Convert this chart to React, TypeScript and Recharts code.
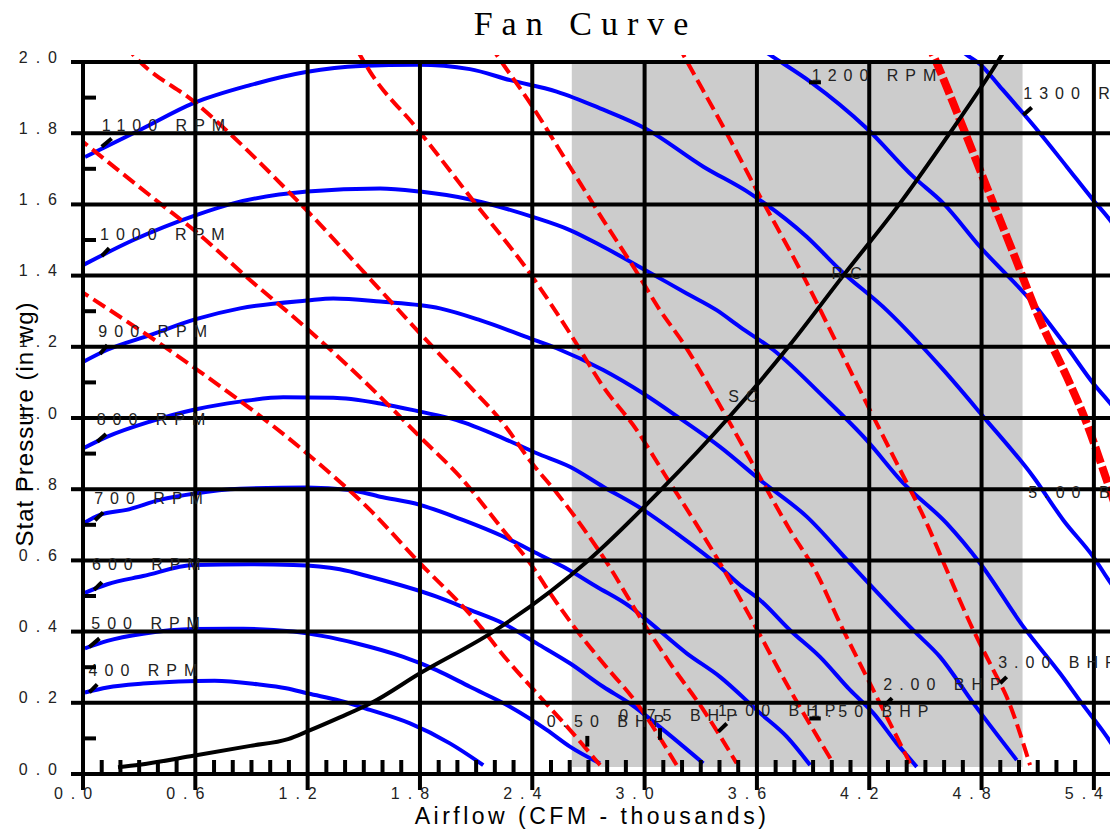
import React from 'react';
import { ComposedChart, Line, XAxis, YAxis, ReferenceLine, ReferenceArea, ReferenceDot } from 'recharts';

const SANS = '"Liberation Sans", Arial, Helvetica, sans-serif';
const SERIF = '"Liberation Serif", "Times New Roman", serif';

// ---- Fan curves: [airflow (thousand CFM), static pressure (in wg)] ----
const rpm400 = [[0.01,0.229],[0.13,0.243],[0.321,0.254],[0.512,0.26],[0.703,0.262],[0.933,0.252],[1.085,0.241],[1.204,0.226],[1.372,0.206],[1.533,0.18],[1.747,0.142],[1.96,0.086],[2.138,0.025]];
const rpm500 = [[0.01,0.353],[0.13,0.374],[0.321,0.394],[0.594,0.407],[0.856,0.408],[1.124,0.4],[1.276,0.388],[1.468,0.366],[1.711,0.329],[1.889,0.292],[2.067,0.245],[2.281,0.189],[2.477,0.124],[2.601,0.077],[2.761,0.03]];
const rpm600 = [[0.01,0.509],[0.13,0.533],[0.321,0.556],[0.594,0.587],[0.894,0.589],[1.124,0.587],[1.372,0.575],[1.533,0.554],[1.889,0.498],[2.067,0.461],[2.245,0.423],[2.424,0.367],[2.601,0.311],[2.779,0.245],[2.922,0.198],[3.1,0.124],[3.314,0.03]];
const rpm700 = [[0.002,0.704],[0.091,0.728],[0.233,0.742],[0.411,0.77],[0.598,0.788],[0.839,0.801],[1.195,0.805],[1.426,0.798],[1.587,0.779],[1.8,0.756],[2.032,0.713],[2.245,0.667],[2.424,0.62],[2.566,0.582],[2.744,0.526],[2.922,0.47],[3.011,0.433],[3.225,0.339],[3.403,0.273],[3.617,0.171],[3.759,0.105],[3.884,0.025]];
const rpm800 = [[0.002,0.915],[0.127,0.947],[0.358,0.99],[0.598,1.024],[0.839,1.046],[1.07,1.058],[1.337,1.057],[1.587,1.041],[1.8,1.018],[1.996,0.994],[2.245,0.943],[2.424,0.901],[2.601,0.863],[2.779,0.807],[2.993,0.742],[3.171,0.676],[3.385,0.59],[3.51,0.531],[3.616,0.489],[3.777,0.404],[3.937,0.329],[4.097,0.236],[4.222,0.171],[4.347,0.086],[4.454,0.02]];
const rpm900 = [[0.002,1.158],[0.127,1.191],[0.358,1.233],[0.598,1.277],[0.839,1.308],[1.195,1.33],[1.337,1.336],[1.587,1.327],[1.907,1.308],[2.121,1.275],[2.388,1.224],[2.53,1.196],[2.779,1.135],[2.993,1.069],[3.189,0.999],[3.403,0.919],[3.617,0.826],[3.866,0.723],[4.115,0.582],[4.435,0.404],[4.578,0.329],[4.756,0.199],[4.988,0.039]];
const rpm1000 = [[0.002,1.43],[0.269,1.5],[0.604,1.57],[0.803,1.603],[1.198,1.636],[1.587,1.645],[1.8,1.636],[2.067,1.614],[2.402,1.565],[2.601,1.528],[2.779,1.481],[3.002,1.416],[3.225,1.35],[3.385,1.303],[3.509,1.256],[3.688,1.191],[3.955,1.06],[4.186,0.938],[4.382,0.817],[4.614,0.704],[4.792,0.592],[5.023,0.414],[5.219,0.283],[5.335,0.199],[5.469,0.105],[5.566,0.025]];
const rpm1100 = [[0.011,1.733],[0.304,1.809],[0.593,1.885],[0.892,1.935],[1.191,1.972],[1.48,1.989],[1.79,1.992],[2.067,1.98],[2.281,1.949],[2.53,1.917],[2.762,1.87],[3.002,1.814],[3.314,1.706],[3.563,1.631],[3.866,1.509],[4.044,1.416],[4.293,1.303],[4.596,1.135],[4.809,1.004],[5.076,0.835],[5.237,0.713],[5.397,0.61],[5.497,0.531],[5.56,0.49]];
const rpm1200 = [[3.617,2.039],[3.67,2.02],[3.884,1.945],[4.186,1.814],[4.435,1.678],[4.596,1.603],[4.792,1.481],[5.076,1.322],[5.255,1.2],[5.397,1.097],[5.486,1.042],[5.56,0.99]];
const rpm1300 = [[4.63,2.06],[4.721,2.02],[4.792,1.994],[4.898,1.931],[5.112,1.8],[5.255,1.706],[5.397,1.612],[5.486,1.556],[5.593,1.472]];

// ---- Brake horsepower curves ----
const bhp050 = [[-0.034,1.364],[0.598,1.14],[1.195,0.901],[1.533,0.742],[1.8,0.592],[2.067,0.449],[2.281,0.311],[2.424,0.227],[2.601,0.124],[2.762,0.025]];
const bhp075 = [[-0.034,1.79],[0.411,1.603],[0.604,1.523],[0.892,1.388],[1.195,1.252],[1.587,1.06],[1.8,0.947],[2.014,0.835],[2.245,0.685],[2.402,0.582],[2.495,0.508],[2.637,0.404],[2.779,0.311],[2.958,0.199],[3.171,0.025]];
const bhp100 = [[0.224,2.048],[0.269,2.02],[0.604,1.884],[1.159,1.603],[1.587,1.36],[1.8,1.238],[2.067,1.088],[2.245,0.985],[2.388,0.88],[2.53,0.79],[2.673,0.69],[2.815,0.58],[2.958,0.455],[3.136,0.311],[3.314,0.18],[3.492,0.03]];
const bhp150 = [[1.464,2.034],[1.533,1.973],[1.783,1.814],[2.067,1.622],[2.388,1.406],[2.601,1.238],[2.779,1.088],[2.958,0.966],[3.109,0.84],[3.296,0.685],[3.403,0.592],[3.563,0.442],[3.777,0.236],[3.901,0.124],[4.008,0.03]];
const bhp200 = [[2.174,2.048],[2.21,2.02],[2.402,1.874],[2.601,1.706],[2.779,1.556],[2.94,1.425],[3.082,1.303],[3.207,1.21],[3.385,1.051],[3.527,0.919],[3.634,0.817],[3.777,0.685],[3.919,0.564],[4.044,0.423],[4.186,0.273],[4.275,0.18],[4.418,0.03]];
const bhp300 = [[3.178,2.048],[3.207,2.02],[3.42,1.818],[3.617,1.622],[3.831,1.416],[4.044,1.191],[4.186,1.041],[4.347,0.873],[4.507,0.704],[4.614,0.573],[4.756,0.404],[4.863,0.292],[4.934,0.217],[5.059,0.025]];
const bhp500 = [[4.503,2.062],[4.541,2.02],[4.685,1.837],[4.827,1.65],[4.97,1.463],[5.112,1.275],[5.255,1.116],[5.362,0.985],[5.45,0.854],[5.513,0.756]];

// ---- System curve ----
const systemCurve = [[0.187,0.019],[0.302,0.026],[0.589,0.051],[0.894,0.079],[1.095,0.098],[1.204,0.121],[1.372,0.159],[1.542,0.2],[1.8,0.283],[2.192,0.4],[2.699,0.6],[3.091,0.8],[3.447,1.0],[3.768,1.2],[4.061,1.4],[4.36,1.6],[4.63,1.8],[4.885,2.0],[4.92,2.03]];

// ---- Axes ----
const xDomain = [0, 5.5];
const yDomain = [0, 2.02];
const xGridValues = [0, 0.6, 1.2, 1.8, 2.4, 3.0, 3.6, 4.2, 4.8, 5.4];
const yGridValues = [0, 0.2, 0.4, 0.6, 0.8, 1.0, 1.2, 1.4, 1.6, 1.8, 2.0];
const xTickValues = Array.from({ length: 56 }, (_, i) => i / 10);
const yTickValues = Array.from({ length: 21 }, (_, i) => i / 10);
const shadedRange = { x1: 2.611, x2: 5.019, y1: 0.02, y2: 2.0 };

// ---- Annotations ----
const rpmLabels = [
  { text: '1100 RPM', x: 0.1, y: 1.807, mark: [0.1, 1.762, 0.153, 1.785] },
  { text: '1000 RPM', x: 0.091, y: 1.5, mark: [0.1, 1.455, 0.14, 1.477] },
  { text: '900 RPM', x: 0.082, y: 1.227, mark: [0.091, 1.18, 0.13, 1.205] },
  { text: '800 RPM', x: 0.073, y: 0.98, mark: [0.076, 0.933, 0.123, 0.955] },
  { text: '700 RPM', x: 0.06, y: 0.758, mark: [0.064, 0.713, 0.108, 0.735] },
  { text: '600 RPM', x: 0.048, y: 0.573, mark: [0.059, 0.517, 0.101, 0.539] },
  { text: '500 RPM', x: 0.044, y: 0.406, mark: [0.034, 0.357, 0.088, 0.381] },
  { text: '400 RPM', x: 0.03, y: 0.275, mark: [0.034, 0.229, 0.076, 0.252] },
  { text: '1200 RPM', x: 3.893, y: 1.947, mark: [3.878, 1.943, 3.942, 1.943] },
  { text: '1300 RPM', x: 5.023, y: 1.895, mark: [5.023, 1.851, 5.068, 1.872] },
];
const bhpLabels = [
  { text: '0.50 BHP', x: 2.477, y: 0.131, mark: [2.694, 0.107, 2.694, 0.077] },
  { text: '0.75 BHP', x: 2.865, y: 0.15, mark: [3.082, 0.129, 3.082, 0.096] },
  { text: '1.00 BHP', x: 3.392, y: 0.163, mark: [3.394, 0.119, 3.439, 0.142] },
  { text: '1.50 BHP', x: 3.889, y: 0.161, mark: [3.88, 0.156, 3.941, 0.156] },
  { text: '2.00 BHP', x: 4.275, y: 0.236, mark: [4.279, 0.191, 4.322, 0.213] },
  { text: '3.00 BHP', x: 4.889, y: 0.297, mark: [4.899, 0.255, 4.934, 0.273] },
  { text: '5.00 BHP', x: 5.05, y: 0.774, mark: null },
  { text: 'SC', x: 3.447, y: 1.046, mark: null },
  { text: 'RC', x: 3.999, y: 1.39, mark: null },
];

const toXY = (a: number[][]) => a.map(([x, y]) => ({ x, y }));

const fanCurves = [rpm400, rpm500, rpm600, rpm700, rpm800, rpm900, rpm1000, rpm1100, rpm1200, rpm1300];
const bhpCurves = [bhp050, bhp075, bhp100, bhp150, bhp200, bhp300];

const isMultiple = (v: number, step: number) => Math.abs(v / step - Math.round(v / step)) < 1e-6;

const XTick = (props: any) => {
  const { x, y, payload } = props;
  const v = payload.value;
  if (isMultiple(v, 0.6)) {
    return (
      <g>
        <line x1={x} y1={y} x2={x} y2={y + 16} stroke="#000" strokeWidth={4} />
        <text x={x - 6} y={y + 25} textAnchor="middle" fontFamily={SANS} fontSize={16} letterSpacing={8} fill="#222">
          {v.toFixed(1)}
        </text>
      </g>
    );
  }
  return <line x1={x} y1={y - 2} x2={x} y2={y - 14} stroke="#000" strokeWidth={4} />;
};

const YTick = (props: any) => {
  const { x, y, payload } = props;
  const v = payload.value;
  if (isMultiple(v, 0.2)) {
    return (
      <g>
        <line x1={x - 12} y1={y} x2={x} y2={y} stroke="#000" strokeWidth={4} />
        <text x={x - 18} y={y + 0.5} textAnchor="end" fontFamily={SANS} fontSize={16} letterSpacing={8} fill="#222">
          {v.toFixed(1)}
        </text>
      </g>
    );
  }
  return <line x1={x + 2} y1={y} x2={x + 13} y2={y} stroke="#000" strokeWidth={4} />;
};

const labelShape = (text: string) => (p: any) => (
  <text x={p.cx} y={p.cy} fontFamily={SANS} fontSize={16} letterSpacing={7} fill="#222">
    {text}
  </text>
);

export default function App() {
  return (
    <div style={{ position: 'absolute', left: 0, top: 0, width: 1110, height: 832, overflow: 'hidden', background: '#fff' }}>
      <ComposedChart width={1130} height={832} margin={{ top: 54.9, right: 17.4, bottom: 18, left: 23 }}>
        <ReferenceArea x1={shadedRange.x1} x2={shadedRange.x2} y1={shadedRange.y1} y2={shadedRange.y2} fill="#cccccc" fillOpacity={1} stroke="none" />
        {fanCurves.map((d, i) => (
          <Line key={'rpm' + i} data={toXY(d)} dataKey="y" type="monotone" stroke="#0000ff" strokeWidth={4} dot={false} activeDot={false} isAnimationActive={false} />
        ))}
        {bhpCurves.map((d, i) => (
          <Line key={'bhp' + i} data={toXY(d)} dataKey="y" type="monotone" stroke="#ff0000" strokeWidth={4} strokeDasharray="14 6" dot={false} activeDot={false} isAnimationActive={false} />
        ))}
        <Line data={toXY(bhp500)} dataKey="y" type="monotone" stroke="#ff0000" strokeWidth={8} strokeDasharray="17 4" dot={false} activeDot={false} isAnimationActive={false} />
        <Line data={toXY(systemCurve)} dataKey="y" type="monotone" stroke="#000000" strokeWidth={4} dot={false} activeDot={false} isAnimationActive={false} />
        {xGridValues.map((v) => (
          <ReferenceLine key={'gx' + v} segment={[{ x: v, y: 0 }, { x: v, y: 2 }]} stroke="#000" strokeWidth={4} />
        ))}
        {yGridValues.map((v) => (
          <ReferenceLine key={'gy' + v} segment={[{ x: 0, y: v }, { x: 5.5, y: v }]} stroke="#000" strokeWidth={4} />
        ))}
        <XAxis dataKey="x" type="number" domain={xDomain} allowDataOverflow ticks={xTickValues} interval={0} tick={<XTick />} tickLine={false} axisLine={false} tickSize={0} tickMargin={0} height={40} />
        <YAxis type="number" domain={yDomain} allowDataOverflow ticks={yTickValues} interval={0} tick={<YTick />} tickLine={false} axisLine={false} tickSize={0} tickMargin={0} width={60} />
        {[...rpmLabels, ...bhpLabels].map((l, i) =>
          l.mark ? (
            <ReferenceLine key={'m' + i} segment={[{ x: l.mark[0], y: l.mark[1] }, { x: l.mark[2], y: l.mark[3] }]} stroke="#000" strokeWidth={4} ifOverflow="visible" />
          ) : null
        )}
        {[...rpmLabels, ...bhpLabels].map((l, i) => (
          <ReferenceDot key={'t' + i} x={l.x} y={l.y} r={0} ifOverflow="visible" shape={labelShape(l.text)} />
        ))}
      </ComposedChart>
      <svg width={1110} height={832} style={{ position: 'absolute', left: 0, top: 0, pointerEvents: 'none' }}>
        <text x={585.5} y={35} textAnchor="middle" fontFamily={SERIF} fontSize={34} letterSpacing={9} fill="#000">Fan Curve</text>
        <text x={592} y={824} textAnchor="middle" fontFamily={SANS} fontSize={23} letterSpacing={3.5} fill="#000">Airflow (CFM - thousands)</text>
        <text x={33} y={424} textAnchor="middle" fontFamily={SANS} fontSize={24} letterSpacing={1} fill="#000" transform="rotate(-90, 33, 424)">Stat Pressure (in wg)</text>
      </svg>
    </div>
  );
}
